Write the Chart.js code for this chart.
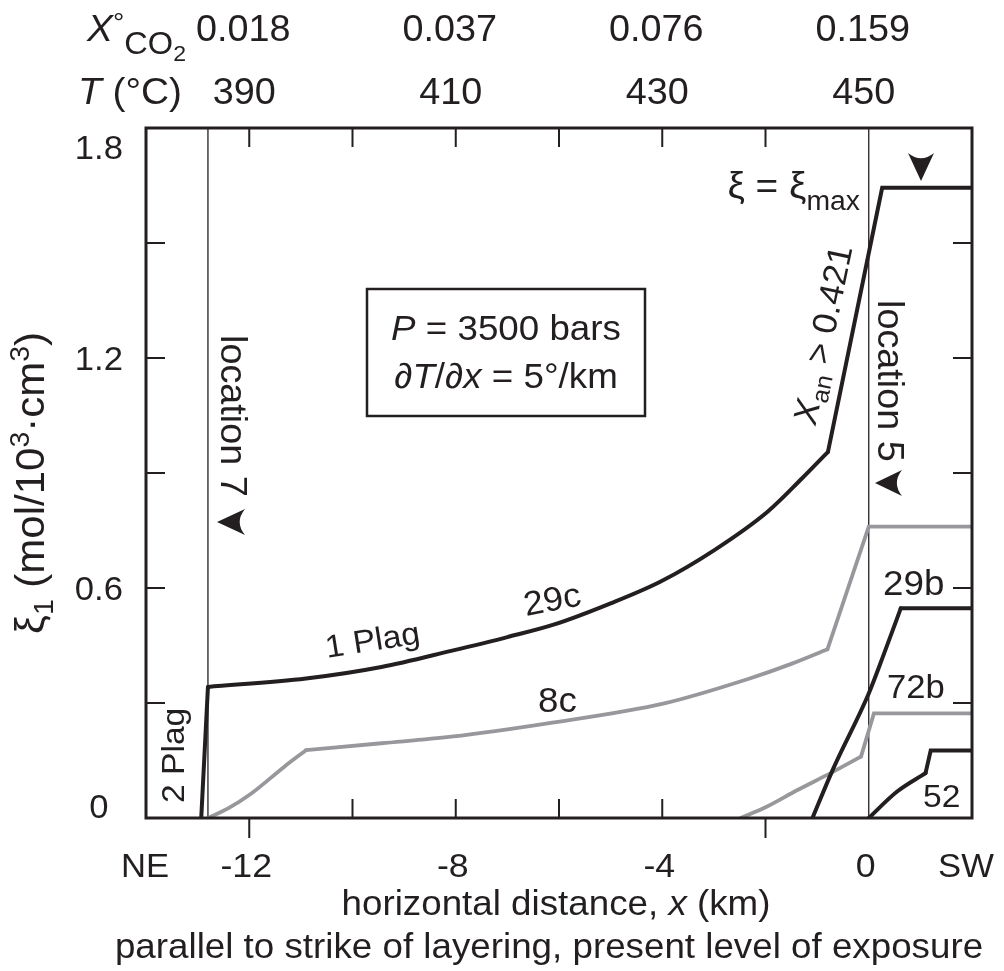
<!DOCTYPE html>
<html>
<head>
<meta charset="utf-8">
<script src="https://cdn.jsdelivr.net/npm/chart.js@4.4.1/dist/chart.umd.min.js"></script>
<style>
  html, body { margin: 0; padding: 0; background: #fff; }
  #campoChart { width: 1004px; height: 971px; }
</style>
</head>
<body>
<div id="campoChart"><canvas id="chartXi" width="1004" height="971"></canvas></div>
<script>
// distance along strike x (km) and reaction progress xi_1 for each sample
const dist29c = [-12.93, -12.8, -10.9, -9.44, -8.09, -7.0, -6.09, -5.0, -4.03, -2.99, -1.96, -1.3, -0.79, 0.26, 2.0];
const xi29c   = [0, 0.342, 0.364, 0.394, 0.436, 0.472, 0.505, 0.56, 0.617, 0.699, 0.799, 0.885, 0.955, 1.644, 1.644];

const dist8c = [-12.8, -12.41, -11.96, -11.32, -10.9, -9.44, -8.09, -6.22, -3.96, -2.35, -1.5, -0.8, 0, 2.0];
const xi8c   = [0, 0.025, 0.064, 0.134, 0.177, 0.195, 0.212, 0.247, 0.299, 0.362, 0.402, 0.44, 0.76, 0.76];

const dist29b = [-1.09, -0.7, 0, 0.3, 0.62, 2.0];
const xi29b   = [0, 0.125, 0.325, 0.43, 0.547, 0.547];

const dist72b = [-2.48, -2.0, -1.38, -0.74, -0.15, 0.1, 2.0];
const xi72b   = [0, 0.028, 0.073, 0.117, 0.16, 0.273, 0.273];

const dist52 = [0, 0.55, 1.1, 1.2, 2.0];
const xi52   = [0, 0.069, 0.117, 0.176, 0.176];

// sample locations 7 and 5
const loc7 = -12.8;
const loc5 = 0;

// axis ticks and labels
const ticksDistIn  = [-10, -8, -6, -4];
const ticksDistOut = [-12, -2];
const ticksDistTop = [-12, -10, -8, -6, -4, -2];
const labelsDist   = [-12, -8, -4, 0];
const labelsTemp   = ['390', '410', '430', '450'];
const labelsXco2   = ['0.018', '0.037', '0.076', '0.159'];
const ticksXi      = [0.3, 0.6, 0.9, 1.2, 1.5];
const labelsXi     = [0, 0.6, 1.2, 1.8];

const PRETO = '#231f20';
const CINZA = '#98989c';
const FONTE = "'Liberation Sans', Arial, Helvetica, sans-serif";
const ESTICA = 1.05; // text drawn slightly wide, Helvetica-like

const pts = (xs, ys) => xs.map((x, i) => ({ x: x, y: ys[i] }));

function fnt(s, it) { return (it ? 'italic ' : '') + s + 'px ' + FONTE; }
function T(t, s, i, d) { return { t: t, s: s, i: i, d: d || 0 }; }

// text made of pieces with different size / italic / baseline shift
function rich(ctx, x, y, parts, align, rot) {
    ctx.save();
    ctx.translate(x, y);
    if (rot) ctx.rotate(rot);
    ctx.scale(ESTICA, 1);
    ctx.textAlign = 'left';
    ctx.textBaseline = 'alphabetic';
    let w = 0;
    for (const p of parts) { ctx.font = fnt(p.s, p.i); w += ctx.measureText(p.t).width; }
    let cx = align === 'center' ? -w / 2 : align === 'right' ? -w : 0;
    for (const p of parts) {
        ctx.font = fnt(p.s, p.i);
        ctx.fillText(p.t, cx, p.d);
        cx += ctx.measureText(p.t).width;
    }
    ctx.restore();
}

// filled arrowhead with a notched back, tip at (tx, ty)
function seta(ctx, tx, ty, ang, len, half) {
    ctx.save();
    ctx.translate(tx, ty);
    ctx.rotate(ang);
    ctx.beginPath();
    ctx.moveTo(0, 0);
    ctx.lineTo(-len, -half);
    ctx.quadraticCurveTo(-len * 0.62, 0, -len, half);
    ctx.closePath();
    ctx.fill();
    ctx.restore();
}

const moldura = {
    id: 'moldura',
    afterDraw(chart) {
        const ctx = chart.ctx;
        const a = chart.chartArea;
        const sx = chart.scales.x;
        const sy = chart.scales.y;
        ctx.save();
        ctx.strokeStyle = PRETO;
        ctx.fillStyle = PRETO;

        // frame
        ctx.lineWidth = 3;
        ctx.strokeRect(a.left, a.top, a.right - a.left, a.bottom - a.top);

        // ticks
        ctx.lineWidth = 2;
        ctx.beginPath();
        ticksDistTop.forEach(v => { const p = sx.getPixelForValue(v); ctx.moveTo(p, a.top); ctx.lineTo(p, a.top + 19); });
        ticksDistIn.forEach(v => { const p = sx.getPixelForValue(v); ctx.moveTo(p, a.bottom); ctx.lineTo(p, a.bottom - 19); });
        ticksDistOut.forEach(v => { const p = sx.getPixelForValue(v); ctx.moveTo(p, a.bottom); ctx.lineTo(p, a.bottom + 20); });
        ticksXi.forEach(v => {
            const p = sy.getPixelForValue(v);
            ctx.moveTo(a.left, p); ctx.lineTo(a.left + 19, p);
            ctx.moveTo(a.right, p); ctx.lineTo(a.right - 19, p);
        });
        ctx.stroke();

        // y tick labels
        labelsXi.forEach(v => {
            let p = sy.getPixelForValue(v);
            if (v === 0) {
                rich(ctx, 99, p, [T('0', 33)], 'center');
            } else {
                if (v === 1.8) p += 19;
                rich(ctx, 123, p + 12, [T(v.toFixed(1), 33)], 'right');
            }
        });

        // x tick labels, temperature and X(CO2) rows
        labelsDist.forEach((v, i) => {
            const p = sx.getPixelForValue(v);
            rich(ctx, p - 3, 877, [T(String(v), 34)], 'center');
            rich(ctx, p - 5, 104, [T(labelsTemp[i], 36)], 'center');
            rich(ctx, p - 6, 41, [T(labelsXco2[i], 36)], 'center');
        });
        rich(ctx, 145, 877, [T('NE', 33)], 'center');
        rich(ctx, 966, 877, [T('SW', 33)], 'center');
        rich(ctx, 186, 41, [T('X', 37, true), T('°', 27, false, -9), T('CO', 31, false, 13), T('2', 22, false, 20)], 'right');
        rich(ctx, 182, 104, [T('T', 37, true), T(' (°C)', 37)], 'right');

        // axis titles
        rich(ctx, 556, 915, [T('horizontal distance, ', 35), T('x', 35, true), T(' (km)', 35)], 'center');
        rich(ctx, 549, 958, [T('parallel to strike of layering, present level of exposure', 35)], 'center');
        rich(ctx, 44, 483, [T('ξ', 40), T('1', 27, false, 9), T(' (mol/10', 40), T('3', 27, false, -15),
                            T('·cm', 40), T('3', 27, false, -15), T(')', 40)], 'center', -Math.PI / 2);

        // conditions box
        ctx.lineWidth = 2.5;
        ctx.strokeRect(367, 289, 278, 127);
        rich(ctx, 506, 340, [T('P', 35, true), T(' = 3500 bars', 35)], 'center');
        rich(ctx, 506, 388, [T('∂', 35), T('T', 35, true), T('/∂', 35), T('x', 35, true), T(' = 5°/km', 35)], 'center');

        // location marks
        rich(ctx, 221, 335, [T('location 7', 36)], 'left', Math.PI / 2);
        rich(ctx, 878, 300, [T('location 5', 36)], 'left', Math.PI / 2);
        seta(ctx, 217, 522, Math.PI, 28, 13);
        seta(ctx, 875, 483, Math.PI, 27, 13);
        seta(ctx, 921, 181, Math.PI / 2, 28, 13);

        // curve labels
        rich(ctx, 860, 198, [T('ξ = ξ', 37), T('max', 27, false, 12)], 'right');
        rich(ctx, 834, 337, [T('X', 34, true), T('an', 24, false, 7), T(' > 0.421', 34)], 'center', -78.2 * Math.PI / 180);
        rich(ctx, 327, 658, [T('1 Plag', 32)], 'left', -9 * Math.PI / 180);
        rich(ctx, 526, 616, [T('29c', 34)], 'left', -11 * Math.PI / 180);
        rich(ctx, 538, 712, [T('8c', 35)], 'left');
        rich(ctx, 184, 803, [T('2 Plag', 32)], 'left', -Math.PI / 2);
        rich(ctx, 883, 595, [T('29b', 35)], 'left');
        rich(ctx, 887, 698, [T('72b', 33)], 'left');
        rich(ctx, 923, 807, [T('52', 32)], 'left');

        ctx.restore();
    }
};

// one curve split into pieces: smooth (monotone) stretches and straight stretches
function curva(label, xs, ys, cor, larg, pedacos) {
    return pedacos.map(([ini, fim, suave]) => ({
        label: label,
        data: pts(xs.slice(ini, fim + 1), ys.slice(ini, fim + 1)),
        showLine: true,
        borderColor: cor,
        backgroundColor: cor,
        borderWidth: larg,
        borderCapStyle: 'round',
        borderJoinStyle: 'miter',
        pointRadius: 0,
        tension: 0,
        cubicInterpolationMode: suave ? 'monotone' : 'default',
        order: cor === PRETO ? 1 : 2
    }));
}

const vertical = (label, x) => ({
    label: label,
    data: pts([x, x], [0, 1.8]),
    showLine: true,
    borderColor: PRETO,
    borderWidth: 1.3,
    pointRadius: 0,
    order: 3
});

const dados = {
    datasets: [
        ...curva('29c', dist29c, xi29c, PRETO, 4, [[0, 1, false], [1, 12, true], [12, 14, false]]),
        ...curva('29b', dist29b, xi29b, PRETO, 4, [[0, 4, true], [4, 5, false]]),
        ...curva('52', dist52, xi52, PRETO, 4, [[0, 2, true], [2, 4, false]]),
        ...curva('8c', dist8c, xi8c, CINZA, 3.8, [[0, 4, true], [4, 11, true], [11, 13, false]]),
        ...curva('72b', dist72b, xi72b, CINZA, 3.8, [[0, 4, true], [4, 6, false]]),
        vertical('location 7', loc7),
        vertical('location 5', loc5)
    ]
};

window.chartXi = new Chart(document.getElementById('chartXi'), {
    type: 'scatter',
    data: dados,
    options: {
        responsive: false,
        animation: false,
        layout: { padding: { left: 146, right: 32, top: 128, bottom: 153 } },
        plugins: { legend: { display: false }, tooltip: { enabled: false } },
        scales: {
            x: { type: 'linear', min: -14, max: 2, display: false },
            y: { type: 'linear', min: 0, max: 1.8, display: false }
        }
    },
    plugins: [moldura]
});
</script>
</body>
</html>
